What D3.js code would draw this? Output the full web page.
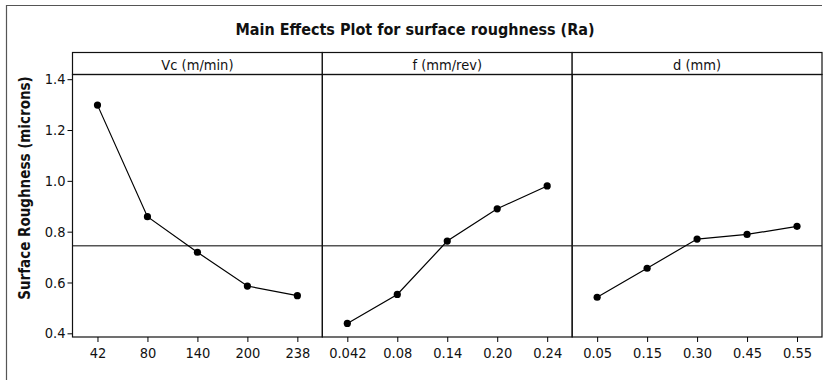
<!DOCTYPE html>
<html>
<head>
<meta charset="utf-8">
<script src="https://cdn.jsdelivr.net/npm/d3@7"></script>
<style>
  body { margin: 0; background: #fff; }
  text { font-family: "DejaVu Sans Condensed", "DejaVu Sans", sans-serif; font-stretch: condensed; fill: #111; }
</style>
</head>
<body>
<svg id="chart"></svg>
<script>
// chart values
var factors = ['Vc (m/min)', 'f (mm/rev)', 'd (mm)'];
var vcLevels = ['42', '80', '140', '200', '238'];
var vcMeans = [1.298, 0.859, 0.719, 0.586, 0.548];
var fLevels = ['0.042', '0.08', '0.14', '0.20', '0.24'];
var fMeans = [0.439, 0.553, 0.763, 0.890, 0.980];
var dLevels = ['0.05', '0.15', '0.30', '0.45', '0.55'];
var dMeans = [0.542, 0.656, 0.771, 0.789, 0.821];
var grandMean = 0.745;
var yTicks = [0.4, 0.6, 0.8, 1.0, 1.2, 1.4];

var canvasWidth = 829;
var canvasHeight = 380;
var margin = { top: 74.5, right: 7, bottom: 43, left: 72.5 };
var stripHeight = 22;
var width = canvasWidth - margin.left - margin.right;
var height = canvasHeight - margin.top - margin.bottom;
var panelWidth = width / 3;

var svg = d3.select('#chart')
    .attr('width', canvasWidth)
    .attr('height', canvasHeight);

// outer frame (only top and left edges show in the picture)
svg.append('path')
    .attr('d', 'M6.5,390 V5.5 H822')
    .attr('fill', 'none')
    .attr('stroke', '#555')
    .attr('stroke-width', 1.2);

svg.append('text')
    .attr('x', 415)
    .attr('y', 35)
    .attr('text-anchor', 'middle')
    .style('font-size', '16px')
    .style('font-weight', 'bold')
    .text('Main Effects Plot for surface roughness (Ra)');

svg.append('text')
    .attr('transform', 'translate(30,188) rotate(-90)')
    .attr('text-anchor', 'middle')
    .style('font-size', '15px')
    .style('font-weight', 'bold')
    .text('Surface Roughness (microns)');

var yScale = d3.scaleLinear()
    .domain([0.3855, 1.4185])
    .range([height, 0]);

var g = svg.append('g')
    .attr('transform', 'translate(' + margin.left + ',' + margin.top + ')');

g.append('g')
    .attr('class', 'y axis')
    .call(d3.axisLeft(yScale).tickValues(yTicks).tickSize(5).tickFormat(d3.format('.1f')))
    .call(function (a) { a.select('.domain').remove(); })
    .call(function (a) { a.selectAll('text').style('font-size', '14.5px').attr('x', -7); });

var panels = [
    { name: factors[0], levels: vcLevels, means: vcMeans },
    { name: factors[1], levels: fLevels, means: fMeans },
    { name: factors[2], levels: dLevels, means: dMeans }
];

var line = d3.line();

panels.forEach(function (p, i) {
    var pg = g.append('g')
        .attr('transform', 'translate(' + (i * panelWidth) + ',0)');

    var xScale = d3.scalePoint()
        .domain(p.levels)
        .range([0, panelWidth])
        .padding(0.5);

    // strip header
    pg.append('rect')
        .attr('x', 0)
        .attr('y', -stripHeight)
        .attr('width', panelWidth)
        .attr('height', stripHeight)
        .attr('fill', '#fff')
        .attr('stroke', '#111')
        .attr('stroke-width', 1.2);
    pg.append('text')
        .attr('x', panelWidth / 2)
        .attr('y', -5)
        .attr('text-anchor', 'middle')
        .style('font-size', '14.5px')
        .text(p.name);

    // mean reference line
    pg.append('line')
        .attr('x1', 0).attr('x2', panelWidth)
        .attr('y1', yScale(grandMean)).attr('y2', yScale(grandMean))
        .attr('stroke', '#555')
        .attr('stroke-width', 1.5);

    pg.append('rect')
        .attr('width', panelWidth)
        .attr('height', height)
        .attr('fill', 'none')
        .attr('stroke', '#111')
        .attr('stroke-width', 1.2);

    pg.append('g')
        .attr('transform', 'translate(0,' + height + ')')
        .call(d3.axisBottom(xScale).tickSize(5))
        .call(function (a) { a.select('.domain').remove(); })
        .call(function (a) { a.selectAll('text').style('font-size', '14.5px').attr('y', 11); });

    var pts = p.levels.map(function (lv, j) { return [xScale(lv), yScale(p.means[j])]; });

    pg.append('path')
        .attr('d', line(pts))
        .attr('fill', 'none')
        .attr('stroke', '#000')
        .attr('stroke-width', 1.2);

    pg.selectAll('.pt')
        .data(p.means)
        .enter().append('circle')
        .attr('class', 'pt')
        .attr('cx', function (d, j) { return xScale(p.levels[j]); })
        .attr('cy', function (d) { return yScale(d); })
        .attr('r', 3.6)
        .attr('fill', '#000');
});
</script>
</body>
</html>
